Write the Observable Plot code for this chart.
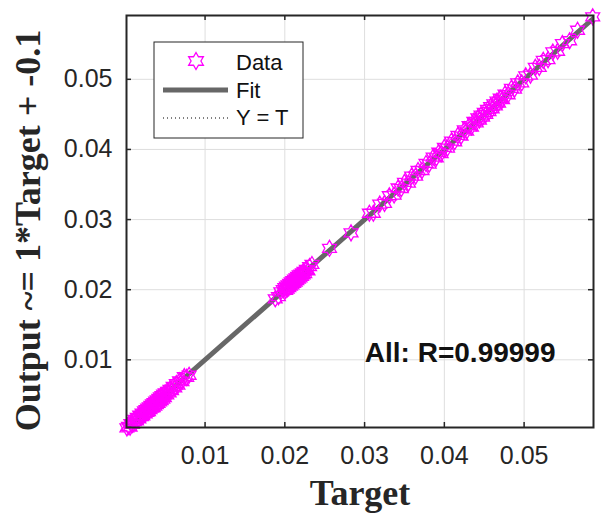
<!DOCTYPE html>
<html>
<head>
<meta charset="utf-8">
<script src="https://cdn.jsdelivr.net/npm/d3@7"></script>
<script src="https://cdn.jsdelivr.net/npm/@observablehq/plot@0.6"></script>
<style>
  html, body { margin: 0; padding: 0; background: #ffffff; }
  #chart { width: 601px; height: 513px; }
</style>
</head>
<body>
<div id="chart"></div>
<script>
// ---- Data ----
const targets = [
  0.0002, 0.0004, 0.0006, 0.0007, 0.0009, 0.0011, 0.0012, 0.0014, 0.0015, 0.0017,
  0.0018, 0.0020, 0.0021, 0.0022, 0.0024, 0.0025, 0.0026, 0.0027, 0.0028, 0.0029,
  0.0030, 0.0031, 0.0032, 0.0033, 0.0034, 0.0035, 0.0036, 0.0037, 0.0038, 0.0039,
  0.0040, 0.0041, 0.0042, 0.0043, 0.0044, 0.0045, 0.0046, 0.0047, 0.0048, 0.0049,
  0.0050, 0.0052, 0.0053, 0.0055, 0.0056, 0.0058, 0.0060, 0.0062, 0.0064, 0.0066,
  0.0068, 0.0071, 0.0074, 0.0077, 0.0080,
  0.0188, 0.0192, 0.0195, 0.0198, 0.0200, 0.0201, 0.0202, 0.0203, 0.0204, 0.0205,
  0.0206, 0.0207, 0.0208, 0.0209, 0.0210, 0.0211, 0.0212, 0.0213, 0.0214, 0.0215,
  0.0216, 0.0217, 0.0218, 0.0219, 0.0220, 0.0221, 0.0222, 0.0223, 0.0224, 0.0225,
  0.0227, 0.0229, 0.0231, 0.0234,
  0.0256, 0.0283, 0.0306, 0.0311, 0.0319, 0.0325, 0.0331, 0.0337, 0.0342, 0.0346,
  0.0350, 0.0355, 0.0359, 0.0364, 0.0367, 0.0372, 0.0377, 0.0381, 0.0386, 0.0390,
  0.0393, 0.0396, 0.0400, 0.0404, 0.0409, 0.0413, 0.0417, 0.0421, 0.0425, 0.0428,
  0.0431, 0.0434, 0.0437, 0.0440, 0.0442, 0.0444, 0.0446, 0.0448, 0.0450, 0.0452,
  0.0454, 0.0456, 0.0458, 0.0460, 0.0462, 0.0464, 0.0466, 0.0468, 0.0470, 0.0473,
  0.0476, 0.0480, 0.0484, 0.0488, 0.0492, 0.0497, 0.0502, 0.0508, 0.0514, 0.0519,
  0.0524, 0.0530, 0.0536, 0.0542, 0.0548, 0.0557, 0.0567, 0.0586
];
const outputs = [
  0.0003, 0.0005, 0.0004, 0.0009, 0.0008, 0.0012, 0.0015, 0.0013, 0.0018, 0.0016,
  0.0021, 0.0019, 0.0024, 0.0020, 0.0027, 0.0023, 0.0029, 0.0025, 0.0031, 0.0026,
  0.0033, 0.0029, 0.0035, 0.0031, 0.0037, 0.0032, 0.0039, 0.0034, 0.0041, 0.0036,
  0.0043, 0.0038, 0.0045, 0.0040, 0.0047, 0.0042, 0.0049, 0.0044, 0.0051, 0.0046,
  0.0053, 0.0050, 0.0055, 0.0053, 0.0058, 0.0056, 0.0062, 0.0060, 0.0066, 0.0064,
  0.0070, 0.0069, 0.0076, 0.0075, 0.0078,
  0.0187, 0.0190, 0.0197, 0.0200, 0.0203, 0.0199, 0.0205, 0.0201, 0.0207, 0.0203,
  0.0209, 0.0205, 0.0211, 0.0207, 0.0213, 0.0209, 0.0215, 0.0211, 0.0217, 0.0213,
  0.0219, 0.0215, 0.0221, 0.0217, 0.0222, 0.0219, 0.0224, 0.0221, 0.0226, 0.0223,
  0.0229, 0.0227, 0.0233, 0.0236,
  0.0259, 0.0281, 0.0309, 0.0309, 0.0322, 0.0323, 0.0334, 0.0335, 0.0345, 0.0344,
  0.0353, 0.0352, 0.0362, 0.0362, 0.0370, 0.0370, 0.0380, 0.0379, 0.0389, 0.0388,
  0.0396, 0.0394, 0.0403, 0.0402, 0.0412, 0.0411, 0.0420, 0.0419, 0.0428, 0.0426,
  0.0434, 0.0432, 0.0440, 0.0438, 0.0445, 0.0442, 0.0449, 0.0446, 0.0453, 0.0450,
  0.0457, 0.0454, 0.0461, 0.0458, 0.0465, 0.0462, 0.0469, 0.0466, 0.0473, 0.0471,
  0.0479, 0.0478, 0.0487, 0.0486, 0.0495, 0.0495, 0.0505, 0.0506, 0.0517, 0.0517,
  0.0527, 0.0528, 0.0539, 0.0540, 0.0551, 0.0555, 0.0570, 0.0589
];
const xTicks = [0.01, 0.02, 0.03, 0.04, 0.05];
const yTicks = [0.01, 0.02, 0.03, 0.04, 0.05];
const xDomain = [0.00015, 0.0587];
const yDomain = [0.00035, 0.0591];
const fitSlope = 1;
const fitIntercept = 0;
const xLabel = "Target";
const yLabel = "Output ~= 1*Target + -0.1";
const rText = "All: R=0.99999";
const legendLabels = ["Data", "Fit", "Y = T"];

// ---- Build table ----
const points = targets.map((t, i) => ({t, o: outputs[i]}));
const fitLine = xDomain.map(x => ({x, y: fitSlope * x + fitIntercept}));
const identity = xDomain.map(x => ({x, y: x}));

// MATLAB-like hexagram marker
const hexagram = {
  draw(ctx, size) {
    const R = Math.sqrt(size / Math.PI);
    const r = R / Math.sqrt(3);
    for (let i = 0; i < 12; i++) {
      const a = -Math.PI / 2 + i * Math.PI / 6;
      const rr = i % 2 ? r : R;
      const px = rr * Math.cos(a), py = rr * Math.sin(a);
      if (i === 0) ctx.moveTo(px, py); else ctx.lineTo(px, py);
    }
    ctx.closePath();
  }
};

const W = 601, H = 513;
const mL = 126, mR = 8, mT = 15, mB = 86;
const frameH = H - mT - mB, frameW = W - mL - mR;
const axisColor = "#262626";

const plot = Plot.plot({
  width: W,
  height: H,
  marginLeft: mL,
  marginRight: mR,
  marginTop: mT,
  marginBottom: mB,
  style: {fontFamily: "Liberation Sans, Arial, sans-serif", background: "#ffffff", overflow: "visible"},
  x: {domain: xDomain, axis: null},
  y: {domain: yDomain, axis: null},
  marks: [
    Plot.gridX(xTicks, {stroke: "#dedede", strokeOpacity: 1, strokeWidth: 1}),
    Plot.gridY(yTicks, {stroke: "#dedede", strokeOpacity: 1, strokeWidth: 1}),
    // inward ticks on all four sides
    Plot.ruleX(xTicks, {stroke: axisColor, strokeWidth: 1.5, insetTop: frameH - 5}),
    Plot.ruleX(xTicks, {stroke: axisColor, strokeWidth: 1.5, insetBottom: frameH - 5}),
    Plot.ruleY(yTicks, {stroke: axisColor, strokeWidth: 1.5, insetRight: frameW - 5}),
    Plot.ruleY(yTicks, {stroke: axisColor, strokeWidth: 1.5, insetLeft: frameW - 5}),
    Plot.axisX(xTicks, {tickSize: 0, tickPadding: 19, tickFormat: d3.format(".2f"), fontSize: 25, color: axisColor, label: null}),
    Plot.axisY(yTicks, {tickSize: 0, tickPadding: 14, tickFormat: d3.format(".2f"), fontSize: 25, color: axisColor, label: null}),
    Plot.line(identity, {x: "x", y: "y", stroke: "#000000", strokeWidth: 1, strokeDasharray: "1,3", clip: true}),
    Plot.line(fitLine, {x: "x", y: "y", stroke: "#676767", strokeWidth: 5, clip: true}),
    Plot.dot(points, {x: "t", y: "o", symbol: hexagram, r: 8, stroke: "#ff00ff", fill: "none", strokeWidth: 1.3}),
    Plot.frame({stroke: axisColor, strokeWidth: 2}),
    Plot.text([rText], {frameAnchor: "bottom-right", textAnchor: "end", lineAnchor: "middle", dx: -38, dy: -74,
      fontSize: 28, fontWeight: "bold", fill: "#111111"}),
    Plot.text([xLabel], {frameAnchor: "bottom", lineAnchor: "middle", dy: 66,
      fontSize: 36, fontWeight: "bold", fontFamily: "Liberation Serif, Times New Roman, serif", fill: axisColor}),
    Plot.text([yLabel], {frameAnchor: "left", textAnchor: "middle", lineAnchor: "middle", rotate: -90, dx: -98, dy: 9,
      fontSize: 36, fontWeight: "bold", fontFamily: "Liberation Serif, Times New Roman, serif", fill: axisColor})
  ]
});

document.getElementById("chart").appendChild(plot);

// ---- Legend (drawn into the same SVG) ----
const svg = d3.select(plot);
const lg = svg.append("g").attr("class", "legend");
lg.append("rect").attr("x", 154).attr("y", 42).attr("width", 149).attr("height", 96)
  .attr("fill", "#ffffff").attr("stroke", axisColor).attr("stroke-width", 1);
const symPath = d3.symbol(hexagram, Math.PI * 8.5 * 8.5)();
lg.append("path").attr("d", symPath).attr("transform", "translate(196,61)")
  .attr("fill", "none").attr("stroke", "#ff00ff").attr("stroke-width", 1.3);
lg.append("line").attr("x1", 163).attr("x2", 228).attr("y1", 90).attr("y2", 90)
  .attr("stroke", "#676767").attr("stroke-width", 5);
lg.append("line").attr("x1", 163).attr("x2", 228).attr("y1", 118).attr("y2", 118)
  .attr("stroke", "#000000").attr("stroke-width", 1).attr("stroke-dasharray", "1,3");
const ly = [62, 90, 117];
legendLabels.forEach((s, i) => {
  lg.append("text").attr("x", 236).attr("y", ly[i]).attr("dy", "0.35em")
    .attr("text-anchor", "start")
    .attr("font-family", "Liberation Sans, Arial, sans-serif").attr("font-size", 22)
    .attr("fill", "#111111").text(s);
});
</script>
</body>
</html>
